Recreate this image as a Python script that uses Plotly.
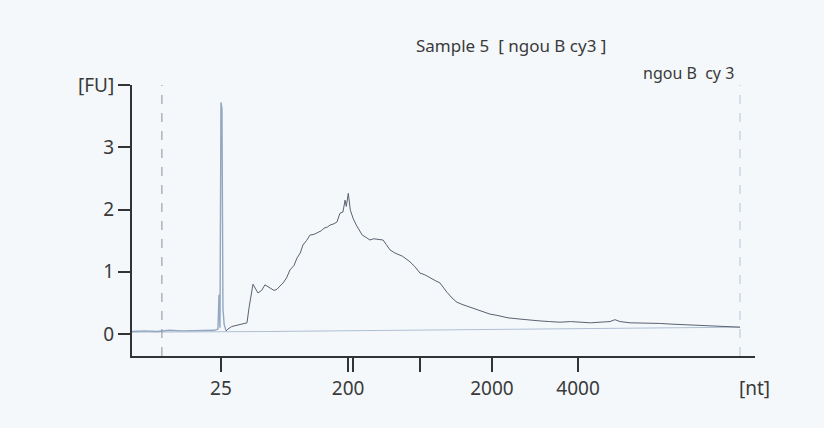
import plotly.graph_objects as go

# migration time [s] and fluorescence [FU] of the sample trace
time_s = [19.0, 20.0, 21.0, 22.0, 23.0, 24.0, 25.0, 25.6, 25.9, 25.98, 26.06, 26.14, 26.22, 26.3, 26.4,
          26.55, 26.7, 27.0, 27.4, 27.8, 28.23, 28.39, 28.71, 29.11, 29.4, 29.67, 30.08, 30.4, 30.64,
          31.12, 31.4, 31.68, 32.0, 32.24, 32.5, 32.72, 33.0, 33.29, 33.6, 33.93, 34.2, 34.41, 34.7,
          34.89, 35.2, 35.45, 35.69, 35.93, 36.1, 36.2, 36.36, 36.52, 36.76, 37.0, 37.2, 37.48, 37.8,
          38.1, 38.4, 38.74, 39.15, 39.4, 39.71, 40.11, 40.51, 40.7, 40.91, 41.31, 41.71, 42.11, 42.51,
          42.92, 43.32, 43.72, 44.0, 44.28, 44.68, 45.08, 45.57, 46.13, 46.69, 47.17, 47.73, 48.29,
          49.18, 50.14, 50.94, 51.75, 52.5, 53.35, 54.2, 54.96, 55.8, 56.56, 57.36, 57.76, 58.17,
          58.97, 59.8, 60.57, 61.4, 62.18, 63.4, 64.59, 65.4, 66.2, 67.0, 67.8]
fu = [0.04, 0.05, 0.04, 0.06, 0.05, 0.05, 0.06, 0.06, 0.08, 0.63, 0.1, 3.72, 3.62, 0.4, 0.15,
      0.05, 0.08, 0.12, 0.14, 0.15, 0.18, 0.42, 0.8, 0.66, 0.7, 0.79, 0.74, 0.7, 0.72,
      0.82, 0.9, 1.03, 1.1, 1.22, 1.3, 1.43, 1.5, 1.59, 1.6, 1.64, 1.66, 1.7, 1.72,
      1.75, 1.77, 1.8, 1.94, 1.96, 2.15, 2.05, 2.26, 1.99, 1.85, 1.75, 1.68, 1.59, 1.55,
      1.51, 1.53, 1.52, 1.51, 1.44, 1.35, 1.3, 1.27, 1.25, 1.22, 1.16, 1.08, 0.98, 0.95,
      0.9, 0.86, 0.82, 0.74, 0.67, 0.58, 0.51, 0.47, 0.43, 0.39, 0.35, 0.32, 0.3,
      0.26, 0.24, 0.22, 0.21, 0.2, 0.19, 0.2, 0.19, 0.18, 0.19, 0.2, 0.23, 0.2,
      0.18, 0.18, 0.17, 0.17, 0.16, 0.15, 0.14, 0.14, 0.13, 0.12, 0.11]

# flat second trace (baseline)
base_time = [19.0, 25.0, 30.0, 35.0, 40.0, 45.0, 50.0, 55.0, 60.0, 65.0, 67.8]
base_fu = [0.03, 0.03, 0.04, 0.05, 0.06, 0.07, 0.08, 0.09, 0.1, 0.11, 0.11]

# ladder tick positions and labels
tick_times = [26.14, 36.34, 36.74, 42.11, 47.89, 54.8]
tick_labels = ["25", "200", "", "", "2000", "4000"]
y_ticks = [0, 1, 2, 3, 4]
y_labels = ["0", "1", "2", "3", "[FU]"]
marker_times = [21.4, 67.8]

FONT = "Noto Sans"
TXT = "#3a3a3a"
BG = "#f4f8fb"

fig = go.Figure()
fig.add_trace(go.Scatter(x=base_time, y=base_fu, mode="lines",
                         line=dict(color="#aebfd3", width=1), hoverinfo="skip"))
spike_end = 16
fig.add_trace(go.Scatter(x=time_s[:spike_end], y=fu[:spike_end], mode="lines",
                         line=dict(color="#93a7c0", width=1.4)))
fig.add_trace(go.Scatter(x=time_s[spike_end - 1:], y=fu[spike_end - 1:], mode="lines",
                         line=dict(color="#5a6170", width=1)))

fig.add_vline(x=marker_times[0], line=dict(color="#8a8f98", width=1, dash="dash"))
fig.add_vline(x=marker_times[1], line=dict(color="#b7c6d6", width=1, dash="dash"))

fig.update_layout(
    width=824, height=428,
    margin=dict(l=132, r=69, t=85, b=72),
    paper_bgcolor=BG, plot_bgcolor=BG,
    showlegend=False,
    font=dict(family=FONT, size=17, color=TXT),
    xaxis=dict(range=[19, 69], tickmode="array", tickvals=tick_times, ticktext=tick_labels,
               showgrid=False, zeroline=False, showline=True, linecolor="#333", linewidth=2,
               ticks="outside", ticklen=14, tickwidth=2, tickcolor="#333",
               tickfont=dict(family=FONT, size=19, color=TXT)),
    yaxis=dict(range=[-0.353, 4.0], tickmode="array", tickvals=y_ticks, ticktext=y_labels,
               showgrid=False, zeroline=False, showline=True, linecolor="#333", linewidth=2,
               ticks="outside", ticklen=12, tickwidth=2, tickcolor="#333",
               tickfont=dict(family=FONT, size=19, color=TXT)),
    annotations=[
        dict(text="Sample 5  [ ngou B cy3 ]", x=414, y=428 - 45, xref="paper", yref="paper",
             showarrow=False, xanchor="left", yanchor="middle",
             font=dict(family=FONT, size=17, color=TXT)),
        dict(text="ngou B  cy 3", x=736, y=428 - 73, xref="paper", yref="paper",
             showarrow=False, xanchor="right", yanchor="middle",
             font=dict(family=FONT, size=16, color=TXT)),
        dict(text="[nt]", x=754, y=428 - 388, xref="paper", yref="paper",
             showarrow=False, xanchor="center", yanchor="middle",
             font=dict(family=FONT, size=19, color=TXT)),
    ],
)
# convert pixel-based annotation positions to paper fractions
pw, ph = 824 - 132 - 69, 428 - 85 - 72
for a in fig.layout.annotations:
    a.x = (a.x - 132) / pw
    a.y = (a.y - 72) / ph

fig.write_html("out.html", config={"displayModeBar": False},
               post_script="document.body.style.margin='0';document.body.style.background='%s';" % BG)
